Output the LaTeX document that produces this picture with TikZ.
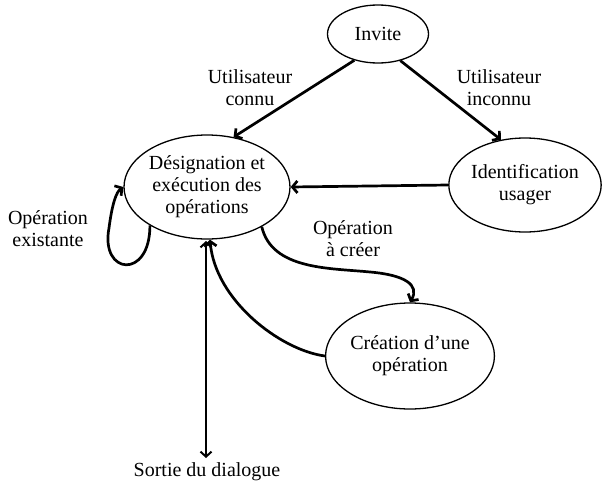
\documentclass[tikz,border=0pt]{standalone}
\usepackage{fontspec}
\setmainfont{Liberation Serif}
\usetikzlibrary{shapes.geometric,arrows.meta}
\begin{document}
\begin{tikzpicture}[x=1pt,y=-1pt,
  every node/.style={font=\fontsize{20}{22}\selectfont, align=center, inner sep=0pt},
  state/.style={ellipse, draw, line width=1.3pt},
  tr/.style={line width=2.7pt, -{Straight Barb[length=5pt,width=12pt]}},
  lbl/.style={}]
\useasboundingbox (0,0) rectangle (616,482);
\node[state, minimum width=101pt, minimum height=58pt] (inv) at (378,34) {Invite};
\node[state, minimum width=166pt, minimum height=104pt] (des) at (207,187) {Désignation et\\exécution des\\opérations};
\node[state, minimum width=126pt, minimum height=94pt] (idf) at (525,185) {Identification\\usager};
\node[state, minimum width=138pt, minimum height=106pt] (cre) at (410,356) {Création d’une\\opération};
\node[lbl] (sortie) at (207,472) {Sortie du dialogue};
\node[lbl] (l1) at (250,88) {Utilisateur\\connu};
\node[lbl] (l2) at (499,88) {Utilisateur\\inconnu};
\node[lbl] (l3) at (48,229) {Opération\\existante};
\node[lbl] (l4) at (353,239) {Opération\\à créer};
\coordinate (sb) at (206,458);
\coordinate (st) at (206,241);
\draw[tr] (inv.228) -- (des.62);
\draw[tr] (inv.-50) -- (idf.118);
\draw[tr] (idf.west) -- (des.east);
\draw[tr] (des.214) .. controls (150,280) and (100,275) .. (109,228) .. controls (112,205) and (116,192) .. (des.west);
\draw[tr] (des.-36) .. controls (272,270) and (330,268) .. (370,272) .. controls (405,275) and (420,285) .. (cre.north);
\draw[tr] (cre.west) .. controls (280,350) and (215,300) .. ([xshift=3pt]des.south);
\draw[line width=2pt, {Straight Barb[length=5pt,width=11pt]}-{Straight Barb[length=5pt,width=11pt]}] (st) -- (sb);
\end{tikzpicture}
\end{document}
